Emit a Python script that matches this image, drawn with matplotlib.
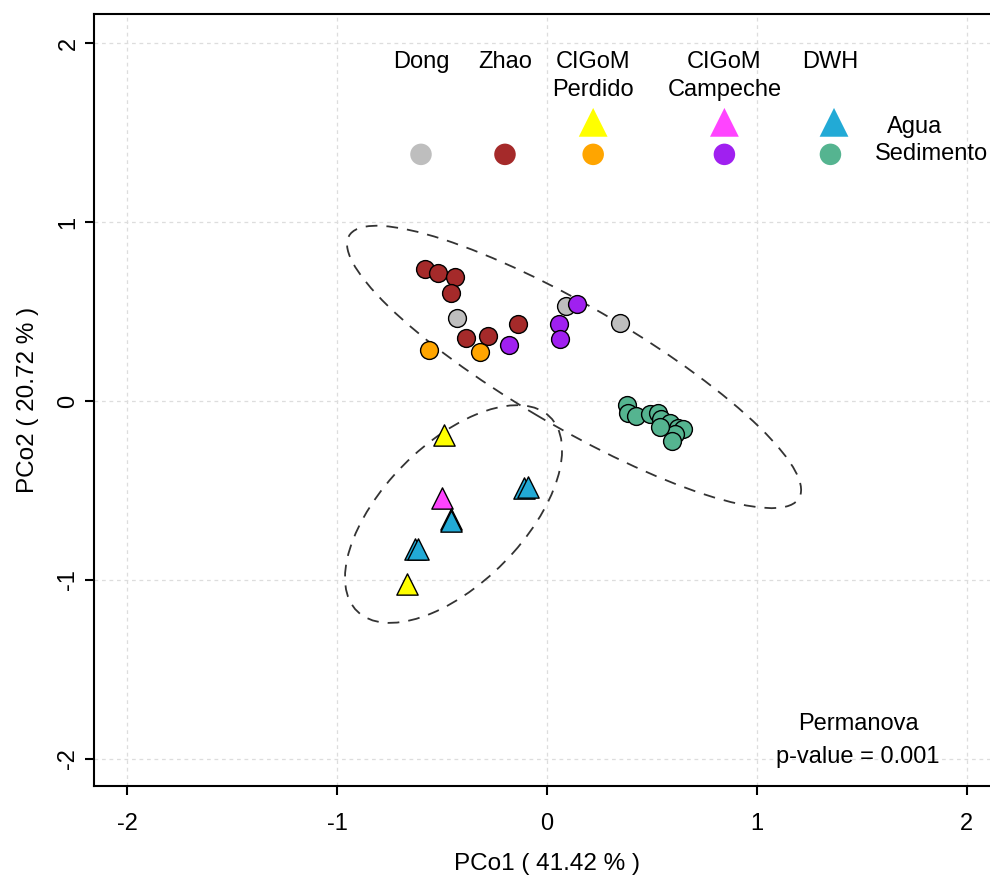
import numpy as np
import matplotlib
matplotlib.use("Agg")
import matplotlib.pyplot as plt
from matplotlib.patches import Ellipse

plt.rcParams['font.family'] = ['Liberation Sans', 'DejaVu Sans']

# --- data (PCo1, PCo2) ---
dong_x = [-0.429, 0.090, 0.348]
dong_y = [0.465, 0.532, 0.437]

zhao_x = [-0.581, -0.519, -0.438, -0.457, -0.386, -0.281, -0.138]
zhao_y = [0.739, 0.717, 0.695, 0.605, 0.353, 0.364, 0.431]

perdido_sed_x = [-0.562, -0.319]
perdido_sed_y = [0.286, 0.275]

campeche_sed_x = [-0.181, 0.143, 0.057, 0.062]
campeche_sed_y = [0.314, 0.543, 0.431, 0.347]

dwh_sed_x = [0.381, 0.386, 0.424, 0.490, 0.529, 0.543, 0.586, 0.624, 0.648, 0.610, 0.595, 0.538]
dwh_sed_y = [-0.022, -0.067, -0.084, -0.073, -0.067, -0.101, -0.123, -0.151, -0.157, -0.185, -0.224, -0.146]

perdido_agua_x = [-0.490, -0.667]
perdido_agua_y = [-0.190, -1.025]

campeche_agua_x = [-0.500]
campeche_agua_y = [-0.543]

dwh_agua_x = [-0.457, -0.457, -0.629, -0.614, -0.110, -0.090]
dwh_agua_y = [-0.661, -0.672, -0.829, -0.829, -0.487, -0.482]

# ellipses: center x, center y, semi-major, semi-minor, angle (deg)
ell_sed = (0.129, 0.190, 1.299, 0.323, -34.9)
ell_agua = (-0.445, -0.632, 0.714, 0.357, 52.8)

# legend
names_1 = ['Dong', 'Zhao', 'CIGoM', 'CIGoM', 'DWH']
names_2 = ['', '', 'Perdido', 'Campeche', '']
leg_x = [-0.60, -0.20, 0.22, 0.845, 1.35]
leg_tri_x = [0.22, 0.845, 1.367]
sed_cols = ['#BEBEBE', '#A52A2A', '#FFA500', '#A020F0', '#55B490']
agua_cols = ['#FFFF00', '#FF44FF', '#22AAD6']

fig = plt.figure(figsize=(9.9, 8.8), dpi=100)
ax = fig.add_axes([0.095, 0.107, 0.915, 0.877])

ax.grid(True, color='#DDDDDD', linestyle=(0, (3, 3)), linewidth=0.9)
ax.set_axisbelow(True)

# stat_ellipse style outlines
for e in [ell_sed, ell_agua]:
    ax.add_patch(Ellipse((e[0], e[1]), 2 * e[2], 2 * e[3], angle=e[4],
                         fill=False, edgecolor='#333333', linestyle=(0, (6.5, 5)),
                         linewidth=1.3, zorder=2))

kw = dict(s=165, edgecolors='black', linewidths=1.0, zorder=3)
ax.scatter(dong_x, dong_y, c=sed_cols[0], marker='o', **kw)
ax.scatter(zhao_x, zhao_y, c=sed_cols[1], marker='o', **kw)
ax.scatter(perdido_sed_x, perdido_sed_y, c=sed_cols[2], marker='o', **kw)
ax.scatter(campeche_sed_x, campeche_sed_y, c=sed_cols[3], marker='o', **kw)
ax.scatter(dwh_sed_x, dwh_sed_y, c=sed_cols[4], marker='o', **kw)

kw_t = dict(s=235, edgecolors='black', linewidths=1.0, zorder=4)
ax.scatter(perdido_agua_x, perdido_agua_y, c=agua_cols[0], marker='^', **kw_t)
ax.scatter(campeche_agua_x, campeche_agua_y, c=agua_cols[1], marker='^', **kw_t)
ax.scatter(dwh_agua_x, dwh_agua_y, c=agua_cols[2], marker='^', **kw_t)

# custom legend at the top
fs = 17
for gx, n1, n2 in zip(leg_x, names_1, names_2):
    ax.text(gx, 1.894, n1, ha='center', va='center', fontsize=fs)
    if n2:
        ax.text(gx, 1.737, n2, ha='center', va='center', fontsize=fs)
ax.scatter(leg_x, [1.378] * 5, c=sed_cols, marker='o', s=240, linewidths=0, zorder=3)
ax.scatter(leg_tri_x, [1.557] * 3, c=agua_cols, marker='^', s=430, linewidths=0, zorder=3)
ax.text(1.752, 1.529, 'Agua', ha='center', va='center', fontsize=fs)
ax.text(1.829, 1.378, 'Sedimento', ha='center', va='center', fontsize=fs)

ax.text(1.481, -1.804, 'Permanova', ha='center', va='center', fontsize=fs)
ax.text(1.481, -1.989, 'p-value = 0.001', ha='center', va='center', fontsize=fs)

ax.set_xlim(-2.157, 2.157)
ax.set_ylim(-2.151, 2.162)
ax.set_xticks([-2, -1, 0, 1, 2])
ax.set_yticks([-2, -1, 0, 1, 2])
ax.set_xticklabels(['-2', '-1', '0', '1', '2'])
ax.set_yticklabels(['-2', '-1', '0', '1', '2'], rotation=90, va='center')
ax.tick_params(axis='both', labelsize=fs, length=6.5, width=1.5, color='black')
ax.tick_params(axis='x', pad=13)
ax.tick_params(axis='y', pad=4)

for side in ['left', 'bottom', 'top', 'right']:
    ax.spines[side].set_linewidth(1.5)

ax.set_xlabel('PCo1 ( 41.42 % )', fontsize=17.5, labelpad=13)
ax.set_ylabel('PCo2 ( 20.72 % )', fontsize=17.5, labelpad=13)

fig.savefig('out.png', dpi=100)
